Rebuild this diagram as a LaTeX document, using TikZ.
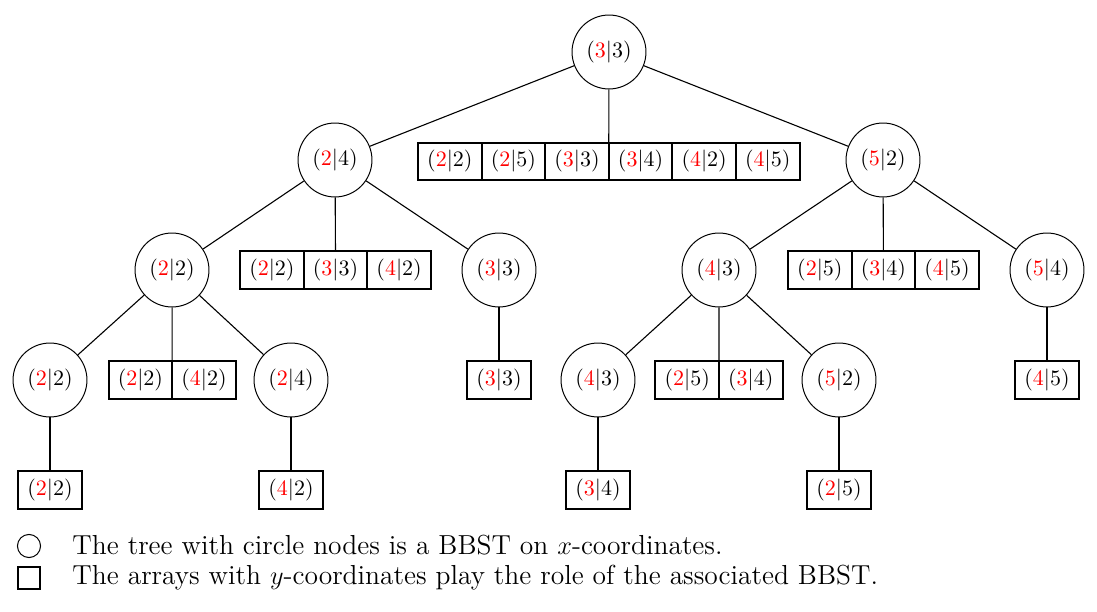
\documentclass[tikz,border=0pt]{standalone}
\usetikzlibrary{positioning}
\newcommand{\pr}[2]{$(\textcolor{red}{#1}|#2)$}
\tikzset{
  x=0.4545pt, y=-0.4545pt,
  cnode/.style={draw, circle, line width=0.45pt, minimum size=33.6pt, inner sep=0pt},
  cell/.style={draw, rectangle, line width=0.9pt, minimum width=28.9pt, minimum height=17pt, inner sep=0pt, outer sep=0pt},
  edge/.style={line width=0.5pt},
  legtext/.style={anchor=base west, inner sep=0pt, font=\fontsize{12.5}{14}\selectfont}
}
\begin{document}
\begin{tikzpicture}
\useasboundingbox (0,0) rectangle (1097,612);
% level 0
\node[cnode] (r) at (609,52) {\pr{3}{3}};
% level 1
\node[cnode] (c24) at (335,160) {\pr{2}{4}};
\node[cnode] (c52) at (883,160) {\pr{5}{2}};
\node[cell] (a1) at (449.8,161.5) {\pr{2}{2}};
\node[cell, right=0pt of a1] (a2) {\pr{2}{5}};
\node[cell, right=0pt of a2] (a3) {\pr{3}{3}};
\node[cell, right=0pt of a3] (a4) {\pr{3}{4}};
\node[cell, right=0pt of a4] (a5) {\pr{4}{2}};
\node[cell, right=0pt of a5] (a6) {\pr{4}{5}};
% level 2
\node[cnode] (c22) at (172,270) {\pr{2}{2}};
\node[cell] (b1) at (271.9,270) {\pr{2}{2}};
\node[cell, right=0pt of b1] (b2) {\pr{3}{3}};
\node[cell, right=0pt of b2] (b3) {\pr{4}{2}};
\node[cnode] (c33) at (499,270) {\pr{3}{3}};
\node[cnode] (c43) at (719,270) {\pr{4}{3}};
\node[cell] (e1) at (819.8,270) {\pr{2}{5}};
\node[cell, right=0pt of e1] (e2) {\pr{3}{4}};
\node[cell, right=0pt of e2] (e3) {\pr{4}{5}};
\node[cnode] (c54) at (1047,270) {\pr{5}{4}};
% level 3
\node[cnode] (d22) at (50,380) {\pr{2}{2}};
\node[cell] (d1) at (140.4,380) {\pr{2}{2}};
\node[cell, right=0pt of d1] (d2) {\pr{4}{2}};
\node[cnode] (d24) at (291,380) {\pr{2}{4}};
\node[cell] (f33) at (499,380) {\pr{3}{3}};
\node[cnode] (g43) at (598,380) {\pr{4}{3}};
\node[cell] (g1) at (687.2,380) {\pr{2}{5}};
\node[cell, right=0pt of g1] (g2) {\pr{3}{4}};
\node[cnode] (g52) at (839,380) {\pr{5}{2}};
\node[cell] (h45) at (1047,380) {\pr{4}{5}};
% level 4
\node[cell] (i22) at (50,490) {\pr{2}{2}};
\node[cell] (i42) at (291,490) {\pr{4}{2}};
\node[cell] (i34) at (598,490) {\pr{3}{4}};
\node[cell] (i25) at (839,490) {\pr{2}{5}};
% edges
\draw[edge] (r) -- (c24);
\draw[edge] (r) -- (c52);
\draw[edge] (r) -- (a3.north east);
\draw[edge] (c24) -- (c22);
\draw[edge] (c24) -- (b2.north);
\draw[edge] (c24) -- (c33);
\draw[edge] (c52) -- (c43);
\draw[edge] (c52) -- (e2.north);
\draw[edge] (c52) -- (c54);
\draw[edge] (c22) -- (d22);
\draw[edge] (c22) -- (d1.north east);
\draw[edge] (c22) -- (d24);
\draw[edge] (c33) -- (f33);
\draw[edge] (c43) -- (g43);
\draw[edge] (c43) -- (g1.north east);
\draw[edge] (c43) -- (g52);
\draw[edge] (c54) -- (h45);
\draw[edge] (d22) -- (i22);
\draw[edge] (d24) -- (i42);
\draw[edge] (g43) -- (i34);
\draw[edge] (g52) -- (i25);
% legend
\node[draw, circle, line width=0.45pt, minimum size=10.5pt, inner sep=0pt] (lc) at (29,546) {};
\node[draw, rectangle, line width=0.9pt, minimum size=9.8pt, inner sep=0pt] (ls) at (29,578) {};
\node[legtext] (lt1) at (72,554) {The tree with circle nodes is a BBST on $x$-coordinates.};
\node[legtext] (lt2) at (72,584) {The arrays with $y$-coordinates play the role of the associated BBST.};
\end{tikzpicture}
\end{document}
